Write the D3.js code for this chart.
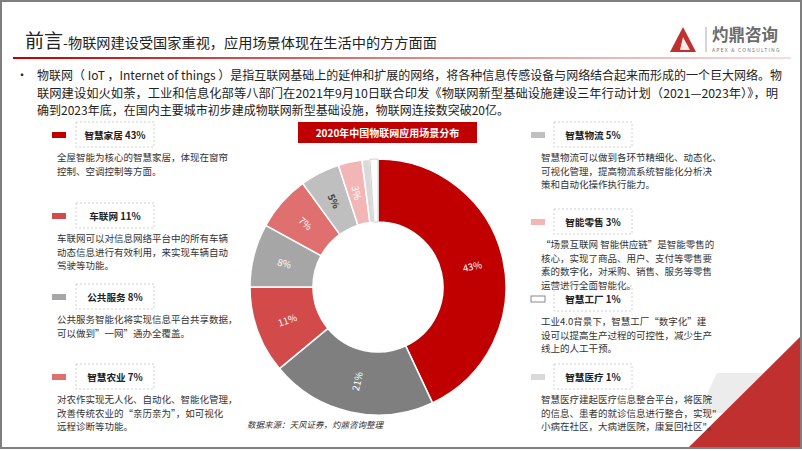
<!DOCTYPE html>
<html><head><meta charset="utf-8">
<script src="https://cdn.jsdelivr.net/npm/d3@7/dist/d3.min.js"></script>
<style>
body{margin:0;background:#fff;}
svg{display:block;font-family:"Noto Sans CJK SC","Noto Sans",sans-serif;}
</style></head>
<body><svg id="c" width="802" height="451"></svg>
<script>
// ---- data ----
const categories = ["智慧家居","其他","车联网","公共服务","智慧农业","智慧物流","智能零售","智慧医疗","智慧工厂"];
const values = [43,21,11,8,7,5,3,1,1];
const sliceLabels = ["43%","21%","11%","8%","7%","5%","3%","",""];
const legendLeft = [
  {name:"智慧家居 43%", cat:"智慧家居", lines:["全屋智能为核心的智慧家居，体现在窗帘","控制、空调控制等方面。"]},
  {name:"车联网 11%", cat:"车联网", lines:["车联网可以对信息网络平台中的所有车辆","动态信息进行有效利用，来实现车辆自动","驾驶等功能。"]},
  {name:"公共服务 8%", cat:"公共服务", lines:["公共服务智能化将实现信息平台共享数据，","可以做到”一网”通办全覆盖。"]},
  {name:"智慧农业 7%", cat:"智慧农业", lines:["对农作实现无人化、自动化、智能化管理，","改善传统农业的“亲历亲为”，如可视化","远程诊断等功能。"]}
];
const legendRight = [
  {name:"智慧物流 5%", cat:"智慧物流", lines:["智慧物流可以做到各环节精细化、动态化、","可视化管理，提高物流系统智能化分析决","策和自动化操作执行能力。"]},
  {name:"智能零售 3%", cat:"智能零售", lines:["“场景互联网 智能供应链”是智能零售的","核心，实现了商品、用户、支付等零售要","素的数字化，对采购、销售、服务等零售","运营进行全面智能化。"]},
  {name:"智慧工厂 1%", cat:"智慧工厂", lines:["工业4.0背景下，智慧工厂“数字化”建","设可以提高生产过程的可控性，减少生产","线上的人工干预。"]},
  {name:"智慧医疗 1%", cat:"智慧医疗", lines:["智慧医疗建起医疗信息整合平台，将医院","的信息、患者的就诊信息进行整合，实现\"","小病在社区，大病进医院，康复回社区\"。"]}
];
const introLines = [
  "物联网（ IoT ，Internet of things ）是指互联网基础上的延伸和扩展的网络，将各种信息传感设备与网络结合起来而形成的一个巨大网络。物",
  "联网建设如火如荼，工业和信息化部等八部门在2021年9月10日联合印发《物联网新型基础设施建设三年行动计划（2021—2023年）》，明",
  "确到2023年底，在国内主要城市初步建成物联网新型基础设施，物联网连接数突破20亿。"
];
const colors = ["#c00000","#7f7f7f","#d24a4a","#a6a6a6","#e07070","#bfbfbf","#f2b6b6","#d9d9d9","#ffffff"];
const labelColors = ["#fff","#fff","#fff","#fff","#fff","#404040","#fff","#fff","#fff"];

const svg = d3.select("#c");
const W = 802, H = 451;

// decorations
svg.append("polygon").attr("points","717,373 772,373 735,413 698,413").attr("fill","#ececec");
svg.append("polygon").attr("points","687,449 800,337 800,449").attr("fill","#c0302f");

// frame
svg.append("rect").attr("x",1).attr("y",1).attr("width",W-2).attr("height",H-4)
  .attr("fill","none").attr("stroke","#7f7f7f").attr("stroke-width",2);

// title
const t = svg.append("text").attr("x",25).attr("y",48).attr("fill","#222");
t.append("tspan").attr("font-size",19).text("前言");
t.append("tspan").attr("font-size",14.2).text("-物联网建设受国家重视，应用场景体现在生活中的方方面面");

const grad = svg.append("defs").append("linearGradient").attr("id","lg").attr("x1","0").attr("x2","1");
grad.append("stop").attr("offset","0").attr("stop-color","#c00000");
grad.append("stop").attr("offset","0.5").attr("stop-color","#e48080");
grad.append("stop").attr("offset","1").attr("stop-color","#f6dede");
svg.append("rect").attr("x",13).attr("y",57).attr("width",778).attr("height",2).attr("fill","url(#lg)");

// logo
svg.append("polygon").attr("points","683,27 696,52 670,52").attr("fill","#c0302f");
svg.append("polygon").attr("points","683,37 690,50 680,50").attr("fill","#fff").attr("opacity",0.9);
svg.append("line").attr("x1",706).attr("x2",706).attr("y1",27).attr("y2",52).attr("stroke","#aaa");
svg.append("text").attr("x",712).attr("y",41).attr("font-size",16.5).attr("font-weight","bold").attr("fill","#6b6b6b").text("灼鼎咨询");
svg.append("text").attr("x",712).attr("y",52).attr("font-size",5).attr("fill","#777").attr("letter-spacing",1.2).text("APEX & CONSULTING");

// intro
svg.append("text").attr("x",16).attr("y",80).attr("font-size",12).attr("fill","#222").text("•");
const introLen = [745, 741, null];
introLines.forEach((l,i)=>{
  const tx = svg.append("text").attr("x",37).attr("y",80+i*17.5).attr("font-size",12).attr("fill","#222").text(l);
  if (introLen[i]) tx.attr("textLength",introLen[i]).attr("lengthAdjust","spacingAndGlyphs");
});

// chart title bar
svg.append("rect").attr("x",298).attr("y",122).attr("width",179).attr("height",21).attr("fill","#c00000");
svg.append("text").attr("x",387.5).attr("y",136.5).attr("text-anchor","middle").attr("font-size",10)
  .attr("font-weight","bold").attr("fill","#fff").text("2020年中国物联网应用场景分布");

// donut
const cx = 378, cy = 287, R = 128, r0 = 65;
const pie = d3.pie().sort(null).value(d=>d)(values);
const arc = d3.arc().innerRadius(r0).outerRadius(R);
const g = svg.append("g").attr("transform",`translate(${cx},${cy})`);
g.selectAll("path").data(pie).enter().append("path")
  .attr("d",arc).attr("fill",(d,i)=>colors[i])
  .attr("stroke",(d,i)=>i===8?"#cfcfcf":"#fff").attr("stroke-width",(d,i)=>i===8?1:1.5);
const lab = d3.arc().innerRadius((r0+R)/2).outerRadius((r0+R)/2);
g.selectAll("text.sl").data(pie).enter().append("text")
  .attr("class","sl")
  .attr("transform",d=>{
    const c = lab.centroid(d);
    const mid = (d.startAngle+d.endAngle)/2*180/Math.PI;
    let a = mid-90;
    while (a>90) a-=180;
    while (a<-90) a+=180;
    return `translate(${c[0]},${c[1]}) rotate(${a})`;
  })
  .attr("text-anchor","middle").attr("dominant-baseline","central")
  .attr("font-size",9.5).attr("fill",(d,i)=>labelColors[i])
  .attr("font-weight",(d,i)=>i===5?"bold":"normal")
  .text((d,i)=>sliceLabels[i]);

// source
svg.append("text").attr("x",247).attr("y",428).attr("font-size",8.5).attr("font-style","italic")
  .attr("fill","#333").text("数据来源：天风证券，灼鼎咨询整理");

// legends
function drawLegend(items, tops, sx, bx, tx){
  items.forEach((it,i)=>{
    const y0 = tops[i];
    const ci = categories.indexOf(it.cat);
    svg.append("rect").attr("x",sx).attr("y",y0+10).attr("width",14).attr("height",6)
      .attr("fill",colors[ci]).attr("stroke",ci===8?"#888":"none").attr("stroke-width",1);
    svg.append("rect").attr("x",bx).attr("y",y0).attr("width",78).attr("height",25)
      .attr("fill","none").attr("stroke","#d0d0d0").attr("stroke-dasharray","2,2");
    svg.append("text").attr("x",bx+39).attr("y",y0+16.5).attr("text-anchor","middle")
      .attr("font-size",9.6).attr("font-weight","bold").attr("fill","#222").text(it.name);
    it.lines.forEach((l,j)=>{
      svg.append("text").attr("x",tx).attr("y",y0+39+j*13.7).attr("font-size",9.5)
        .attr("fill","#333").text(l);
    });
  });
}
drawLegend(legendLeft, [122,203,284,364], 52, 76, 57);
drawLegend(legendRight, [122,209,286,364], 531, 554, 541);
</script></body></html>
